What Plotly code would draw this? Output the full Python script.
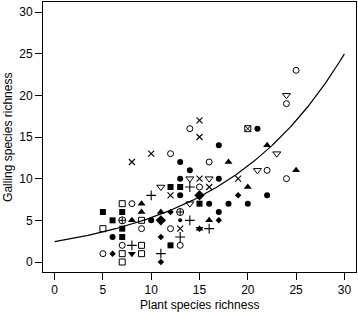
import numpy as np
import plotly.graph_objects as go

# ---- data (plant species richness, galling species richness) by symbol ----
open_circle_x = [25, 24, 14, 12, 16, 22, 24, 8, 9, 12, 7, 5, 15, 13]
open_circle_y = [23, 19, 16, 13, 12, 11, 10, 7, 4, 4, 2, 1, 9, 2]

filled_circle_x = [21, 17, 13, 14, 13, 17, 13, 22, 16, 18, 20, 17, 10, 6, 15]
filled_circle_y = [16, 14, 12, 11, 10, 10, 8, 8, 7, 7, 7, 6, 5, 3, 8]

small_dot_x = [13]
small_dot_y = [5]

open_square_x = [7, 9, 5, 9, 7, 9, 7]
open_square_y = [7, 5, 4, 2, 1, 1, 0]

filled_square_x = [12, 13, 5, 7, 6, 7, 7, 15, 12]
filled_square_y = [9, 9, 6, 6, 5, 4, 3, 7, 2]

tri_up_x = [18, 22, 25, 20, 9, 9, 11, 8, 16, 15]
tri_up_y = [12, 14, 11, 9, 7, 6, 6, 5, 5, 4]

tri_down_open_x = [24, 23, 21, 11, 14, 16, 14]
tri_down_open_y = [20, 13, 11, 9, 10, 10, 7]

tri_down_filled_x = [8, 15]
tri_down_filled_y = [1, 4]

cross_x = [15, 15, 10, 8, 15, 19, 16, 12, 13]
cross_y = [17, 15, 13, 12, 10, 10, 9, 8, 4]

plus_x = [10, 14, 14, 16, 13, 8, 11]
plus_y = [8, 9, 5, 4, 3, 2, 1]

small_diamond_x = [12, 11, 6, 11, 17, 19]
small_diamond_y = [6, 3, 1, 0, 5, 8]

big_diamond_x = [11, 15]
big_diamond_y = [5, 8]

circle_plus_x = [7, 13]
circle_plus_y = [5, 6]

square_x_x = [20]
square_x_y = [16]

tick_values = [0, 5, 10, 15, 20, 25, 30]

# fitted exponential curve y = A * exp(B * x)
FIT_A = 2.45
FIT_B = 0.0774
curve_x = np.linspace(0, 30, 200)
curve_y = FIT_A * np.exp(FIT_B * curve_x)

# ---- figure ----
fig = go.Figure()

def add(xs, ys, symbol, size, lw=1.0):
    fig.add_trace(go.Scatter(
        x=xs, y=ys, mode="markers",
        marker=dict(symbol=symbol, size=size, color="black",
                    line=dict(color="black", width=lw)),
        showlegend=False, hoverinfo="skip"))

add(open_circle_x, open_circle_y, "circle-open", 6)
add(filled_circle_x, filled_circle_y, "circle", 6, 0)
add(small_dot_x, small_dot_y, "circle", 4, 0)
add(open_square_x, open_square_y, "square-open", 6)
add(filled_square_x, filled_square_y, "square", 6, 0)
add(tri_up_x, tri_up_y, "triangle-up", 7, 0)
add(tri_down_open_x, tri_down_open_y, "triangle-down-open", 7)
add(tri_down_filled_x, tri_down_filled_y, "triangle-down", 7, 0)
add(cross_x, cross_y, "x-thin-open", 6, 1.1)
add(plus_x, plus_y, "cross-thin-open", 7, 1.1)
add(small_diamond_x, small_diamond_y, "diamond", 5, 0)
add(big_diamond_x, big_diamond_y, "diamond", 8, 0)
add(circle_plus_x, circle_plus_y, "circle-cross-open", 7)
add(square_x_x, square_x_y, "square-x-open", 6)

fig.add_trace(go.Scatter(
    x=curve_x, y=curve_y, mode="lines",
    line=dict(color="black", width=1.2),
    showlegend=False, hoverinfo="skip"))

FONT = "Liberation Sans, Arial, sans-serif"

axis_common = dict(
    showgrid=False, zeroline=False, automargin=False,
    showline=True, mirror=True, linecolor="black", linewidth=1,
    ticks="outside", ticklen=7, tickcolor="black", tickwidth=1,
    tickfont=dict(family=FONT, size=12, color="black"),
    range=[-1.2, 31.2], tickvals=tick_values,
)

fig.update_layout(
    width=358, height=312,
    margin=dict(l=43, r=2, t=2, b=40),
    paper_bgcolor="white", plot_bgcolor="white",
    font=dict(family=FONT, size=12, color="black"),
    xaxis=dict(**axis_common),
    yaxis=dict(**axis_common),
    annotations=[
        dict(text="Plant species richness", xref="paper", yref="paper",
             x=0.5, y=-0.122, xanchor="center", yanchor="middle",
             showarrow=False, font=dict(family=FONT, size=12)),
        dict(text="Galling species richness", xref="paper", yref="paper",
             x=-0.112, y=0.5, xanchor="center", yanchor="middle",
             textangle=-90, showarrow=False, font=dict(family=FONT, size=12)),
    ],
)

fig.write_html("out.html",
               config={"displayModeBar": False},
               post_script="document.body.style.margin='0';document.body.style.overflow='hidden';")
